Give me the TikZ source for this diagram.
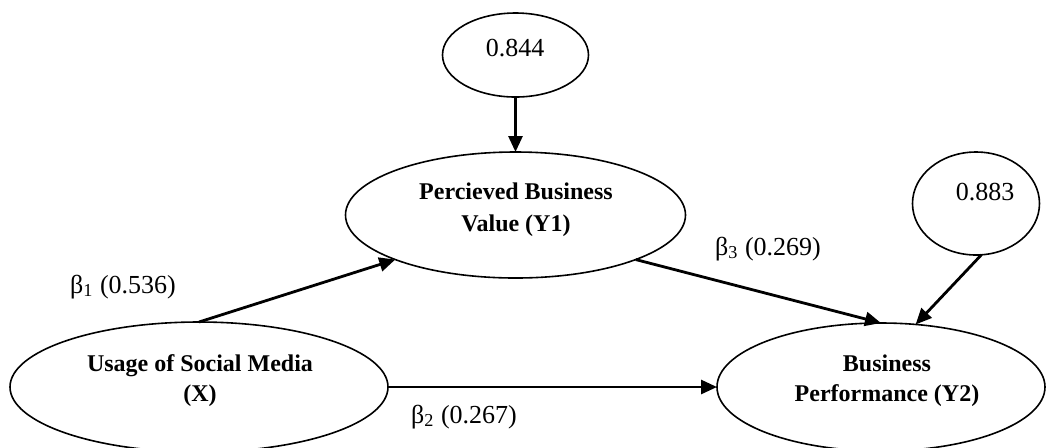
\documentclass[tikz,border=0pt]{standalone}
\usepackage{fontspec}
\setmainfont{Liberation Serif}
\usetikzlibrary{shapes.geometric,arrows.meta}
\begin{document}
\begin{tikzpicture}[x=0.5pt,y=-0.5pt,
  oval/.style={draw,ellipse,line width=0.8pt,inner sep=0pt,outer sep=0pt},
  txt/.style={align=center,inner sep=0pt,font=\fontsize{12}{15}\selectfont\bfseries},
  num/.style={inner sep=0pt,font=\fontsize{13}{15}\selectfont},
  conn/.style={line width=1.4pt,-{Triangle[length=8pt,width=7pt]}}]
\useasboundingbox (0,0) rectangle (1046,447);
% ellipses
\node[oval,minimum width=189pt,minimum height=65pt] (X) at (199,387) {};
\node[oval,minimum width=170pt,minimum height=63pt] (Y1) at (515.5,215) {};
\node[oval,minimum width=164pt,minimum height=64pt] (Y2) at (881,387) {};
\node[oval,minimum width=73pt,minimum height=42pt] (E1) at (515.5,55) {};
\node[oval,minimum width=63.5pt,minimum height=51.5pt] (E2) at (976,203.5) {};
% texts
\node[txt] (Xt) at (200,381) {Usage of Social Media\\(X)};
\node[txt,font=\fontsize{12}{16}\selectfont\bfseries] (Y1t) at (516,210) {Percieved Business\\Value (Y1)};
\node[txt] (Y2t) at (887,381) {Business\\Performance (Y2)};
\node[num] (E1t) at (515,48) {0.844};
\node[num] (E2t) at (985,192) {0.883};
% connectors
\draw[conn] (E1.south) -- (Y1.north);
\draw[conn] (X.north) -- (Y1.south west);
\draw[conn] (Y1.south east) -- (Y2.north);
\draw[conn] (E2.-84) -- (Y2.61);
\draw[conn] (X.east) -- (Y2.west);
% labels
\node[num,anchor=base] (b1) at (123,293) {β\textsubscript{1} (0.536)};
\node[num,anchor=base] (b2) at (464,423) {β\textsubscript{2} (0.267)};
\node[num,anchor=base] (b3) at (768,255) {β\textsubscript{3} (0.269)};
\end{tikzpicture}
\end{document}
